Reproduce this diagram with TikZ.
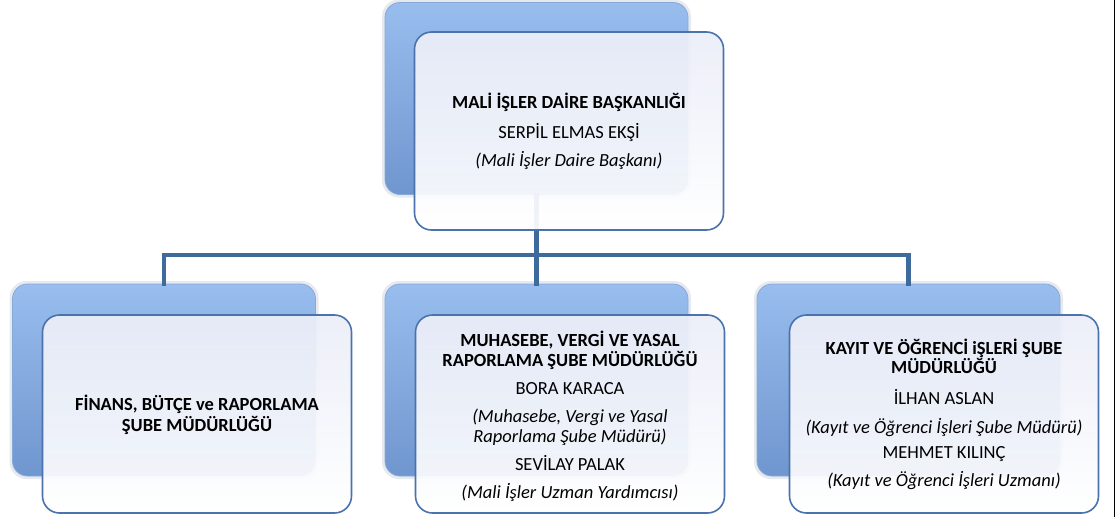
\documentclass[tikz,border=0pt]{standalone}
\usepackage{fontspec}
\setmainfont{Carlito}
\begin{document}
\begin{tikzpicture}[x=1pt,y=-1pt,
  backbox/.style={rounded corners=15pt, minimum width=303pt, minimum height=192pt,
    top color=backtop, bottom color=backbot, draw=backedge, line width=0.8pt,
    inner sep=0pt},
  glowbox/.style={rounded corners=17pt, minimum width=309pt, minimum height=198pt,
    fill=glowc, fill opacity=0.35, inner sep=0pt},
  frontbox/.style={rounded corners=17pt, minimum width=309pt, minimum height=198pt,
    top color=fronttop, bottom color=white, fill opacity=0.93,
    draw=frontedge, line width=1.6pt, inner sep=0pt},
  txt/.style={align=center, inner sep=0pt, font=\fontsize{18.5}{21}\selectfont},
  conn/.style={draw=connc, line width=4.5pt, line cap=rect}
]
\definecolor{backtop}{HTML}{98BDEE}
\definecolor{backbot}{HTML}{7096CF}
\definecolor{backedge}{HTML}{88A9D8}
\definecolor{glowc}{HTML}{B8C4D4}
\definecolor{fronttop}{HTML}{EBEEF8}
\definecolor{frontedge}{HTML}{4A72AC}
\definecolor{connc}{HTML}{3F6A9C}

\useasboundingbox (0,0) rectangle (1115,517);
\fill[white] (0,0) rectangle (1115,517);

% glows
\node[glowbox] (topglow) at (536.5,98.5) {};
\node[glowbox] (leftglow) at (164,380) {};
\node[glowbox] (midglow) at (536.5,380) {};
\node[glowbox] (rightglow) at (908.5,380) {};

% back boxes
\node[backbox] (topback) at (536.5,98.5) {};
\node[backbox] (leftback) at (164,380) {};
\node[backbox] (midback) at (536.5,380) {};
\node[backbox] (rightback) at (908.5,380) {};

% connectors
\coordinate (bus) at (536.5,255);
\draw[conn] (topback.south) -- (midback.north);
\draw[conn] (leftback.north) |- (bus) -| (rightback.north);

% front boxes
\node[frontbox] (top) at (569,131) {};
\node[frontbox] (left) at (197,414) {};
\node[frontbox] (mid) at (570,414) {};
\node[frontbox] (right) at (944,414) {};

% texts (yshift is on the page: positive moves up)
\node[txt] (toptxt) at ([yshift=-0.5pt]top.center) {\textbf{MALİ İŞLER DAİRE BAŞKANLIĞI}\\[9pt]
  SERPİL ELMAS EKŞİ\\[7pt]
  \textit{(Mali İşler Daire Başkanı)}};
\node[txt] (lefttxt) at ([yshift=-0.5pt]left.center) {\textbf{FİNANS, BÜTÇE ve RAPORLAMA}\\[0pt]
  \textbf{ŞUBE MÜDÜRLÜĞÜ}};
\node[txt] (midtxt) at ([yshift=-2.5pt]mid.center) {\textbf{MUHASEBE, VERGİ VE YASAL}\\[-1pt]
  \textbf{RAPORLAMA ŞUBE MÜDÜRLÜĞÜ}\\[7pt]
  BORA KARACA\\[7pt]
  \textit{(Muhasebe, Vergi ve Yasal}\\[-1pt]
  \textit{Raporlama Şube Müdürü)}\\[7pt]
  SEVİLAY PALAK\\[7pt]
  \textit{(Mali İşler Uzman Yardımcısı)}};
\node[txt] (righttxt) at ([yshift=0pt]right.center) {\textbf{KAYIT VE ÖĞRENCİ iŞLERİ ŞUBE}\\[-2pt]
  \textbf{MÜDÜRLÜĞÜ}\\[10pt]
  İLHAN ASLAN\\[8pt]
  \textit{(Kayıt ve Öğrenci İşleri Şube Müdürü)}\\[4pt]
  MEHMET KILINÇ\\[7pt]
  \textit{(Kayıt ve Öğrenci İşleri Uzmanı)}};

% right edge line
\draw[black, line width=1pt] (1114.5,0) -- (1114.5,517);
\end{tikzpicture}
\end{document}
